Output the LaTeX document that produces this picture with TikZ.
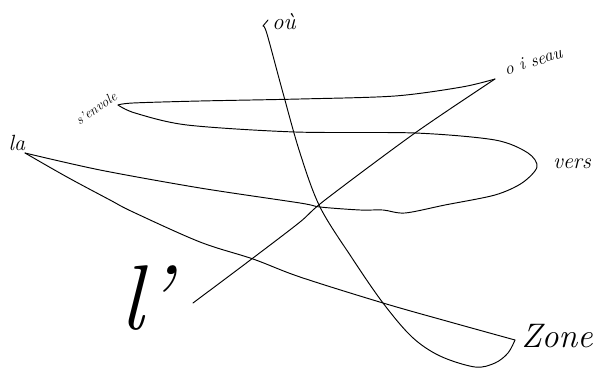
\documentclass[tikz,border=0pt]{standalone}
\usepackage{fontspec}
\setmainfont{Latin Modern Roman}
\begin{document}
\begin{tikzpicture}[x=1pt,y=-1pt,
  stroke/.style={line width=0.95pt, line join=round, line cap=round},
  word/.style={inner sep=0pt, font=\itshape}]
\useasboundingbox (0,0) rectangle (595,369);
% words
\node[word, font=\itshape\fontsize{23}{23}\selectfont] (ou) at (284,22) {où};
\node[word, font=\itshape\fontsize{18}{18}\selectfont, rotate=18] (oiseau) at (533,61) {o i seau};
\node[word, font=\itshape\fontsize{22}{22}\selectfont] (vers) at (572,164) {vers};
\node[word, font=\itshape\fontsize{14}{14}\selectfont, rotate=35] (envole) at (96,108) {s'envole};
\node[word, font=\itshape\fontsize{22}{22}\selectfont] (la) at (17,143) {la};
\node[word, font=\itshape\fontsize{92}{92}\selectfont] (l) at (146,298) {l'};
\node[word, font=\itshape\fontsize{34}{34}\selectfont] (zone) at (557,336) {Zone};
% connector ends
\coordinate (cOu) at (263,26);
\coordinate (cLa) at (25,153);
\coordinate (cEnv) at (118,105);
\coordinate (cOis) at (495,79);
\coordinate (cL) at (193,303);
\coordinate (cZone) at (515,340);
% où -> Zone
\draw[stroke] (268,20) -- (cOu);
\draw[stroke] plot[smooth, tension=0.55] coordinates {(cOu) (267,34) (283,93) (300,153) (320,207) (352,258) (383,303) (412,337) (440,356) (475,367) (495,363) (508,353) (cZone)};
% la -> Zone
\draw[stroke] plot[smooth, tension=0.55] coordinates {(cLa) (67,177) (110,200) (133,212) (200,242) (253,259) (300,277) (383,303) (450,322) (cZone)};
% la -> vers loop -> s'envole
\draw[stroke] plot[smooth, tension=0.5] coordinates {(cLa) (100,170) (200,188) (300,203) (320,207) (360,210) (383,210) (405,213) (445,205) (495,195) (522,183) (537,167) (528,153) (495,140) (415,133) (295,132) (187,125) (135,113) (cEnv)};
% s'envole -> oiseau
\draw[stroke] plot[smooth, tension=0.5] coordinates {(cEnv) (133,103) (200,101) (300,99) (395,96) (462,87) (cOis)};
% oiseau -> l'
\draw[stroke] plot[smooth, tension=0.5] coordinates {(cOis) (415,133) (325,200) (300,222) (253,258) (cL)};
\end{tikzpicture}
\end{document}
